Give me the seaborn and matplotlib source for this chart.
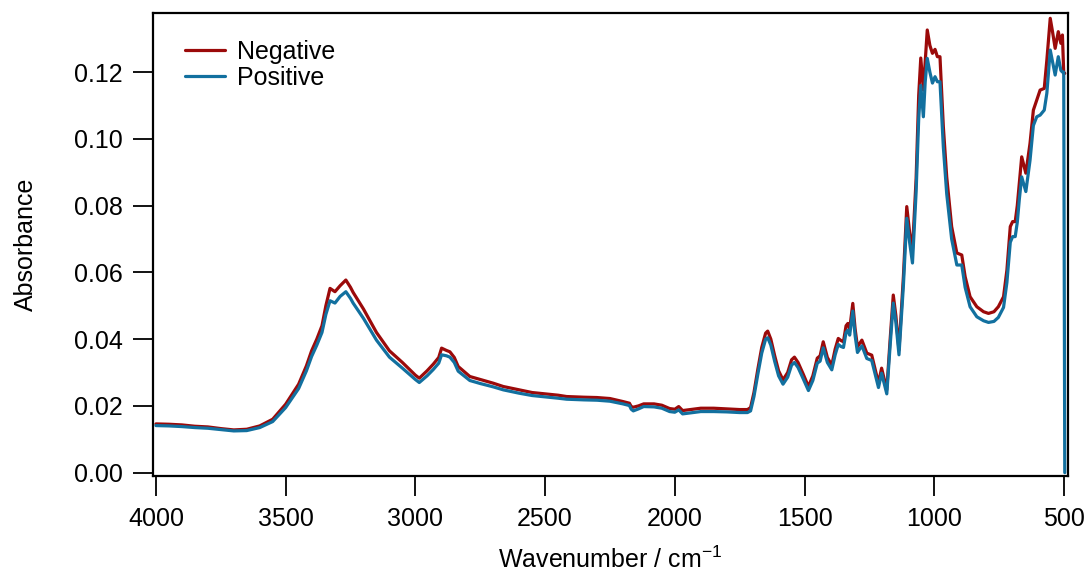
import pandas as pd
import matplotlib
matplotlib.use("Agg")
import matplotlib.pyplot as plt
import seaborn as sns

# === Spectrum values ===
wavenumber = [
    4000, 3950, 3900, 3850, 3800, 3750, 3700, 3650, 3600, 3550, 3500, 3450, 3420,
    3400, 3380, 3360, 3345, 3329, 3310, 3290, 3268, 3250, 3240, 3200, 3150, 3100,
    3050, 3000, 2985, 2955, 2931, 2910, 2899, 2880, 2867, 2850, 2835, 2790, 2750,
    2700, 2661, 2600, 2550, 2500, 2450, 2417, 2350, 2300, 2250, 2200, 2175, 2168,
    2160, 2140, 2120, 2080, 2050, 2020, 2000, 1985, 1970, 1950, 1900, 1850, 1800,
    1750, 1720, 1708, 1695, 1680, 1665, 1650, 1642, 1630, 1615, 1600, 1583, 1565,
    1550, 1539, 1525, 1505, 1485, 1468, 1451, 1440, 1428, 1412, 1395, 1382, 1370,
    1360, 1350, 1340, 1333, 1326, 1314, 1305, 1296, 1279, 1260, 1241, 1228, 1215,
    1203, 1183, 1170, 1158, 1148, 1136, 1119, 1106, 1095, 1084, 1070, 1060, 1052,
    1042, 1035, 1027, 1017, 1007, 997, 988, 978, 965, 952, 933, 913, 894, 881, 862,
    836, 810, 791, 770, 753, 733, 720, 707, 698, 688, 680, 672, 663, 647, 631, 618,
    605, 592, 576, 566, 553, 544, 534, 522, 512, 506, 501, 497,
]
negative = [
    0.0146, 0.0145, 0.0143, 0.0139, 0.0137, 0.0132, 0.0128, 0.0130, 0.0140, 0.0160,
    0.0205, 0.0265, 0.0320, 0.0365, 0.0400, 0.0440, 0.0500, 0.0552, 0.0542, 0.0560,
    0.0577, 0.0555, 0.0540, 0.0490, 0.0420, 0.0365, 0.0330, 0.0292, 0.0283, 0.0305,
    0.0325, 0.0345, 0.0373, 0.0366, 0.0362, 0.0345, 0.0318, 0.0288, 0.0279, 0.0268,
    0.0258, 0.0248, 0.0240, 0.0236, 0.0232, 0.0228, 0.0226, 0.0225, 0.0222, 0.0213,
    0.0208, 0.0198, 0.0196, 0.0200, 0.0206, 0.0206, 0.0202, 0.0192, 0.0190, 0.0198,
    0.0186, 0.0188, 0.0193, 0.0193, 0.0191, 0.0189, 0.0189, 0.0195, 0.0240, 0.0310,
    0.0375, 0.0418, 0.0424, 0.0400, 0.0350, 0.0305, 0.0278, 0.0300, 0.0338, 0.0346,
    0.0330, 0.0295, 0.0258, 0.0290, 0.0343, 0.0350, 0.0392, 0.0345, 0.0322, 0.0370,
    0.0402, 0.0396, 0.0392, 0.0440, 0.0447, 0.0430, 0.0507, 0.0430, 0.0377, 0.0397,
    0.0358, 0.0352, 0.0310, 0.0268, 0.0313, 0.0248, 0.0400, 0.0532, 0.0470, 0.0367,
    0.0587, 0.0797, 0.0720, 0.0667, 0.0880, 0.1130, 0.1242, 0.1146, 0.1230, 0.1326,
    0.1280, 0.1256, 0.1268, 0.1246, 0.1246, 0.1036, 0.0886, 0.0737, 0.0658, 0.0652,
    0.0587, 0.0527, 0.0497, 0.0482, 0.0477, 0.0482, 0.0497, 0.0527, 0.0607, 0.0737,
    0.0752, 0.0752, 0.0800, 0.0868, 0.0946, 0.0897, 0.0986, 0.1086, 0.1116, 0.1146,
    0.1151, 0.1236, 0.1361, 0.1320, 0.1271, 0.1321, 0.1286, 0.1311, 0.1196, 0.1196,
]
positive = [
    0.0141, 0.0140, 0.0138, 0.0135, 0.0133, 0.0129, 0.0125, 0.0126, 0.0135, 0.0153,
    0.0195, 0.0252, 0.0305, 0.0348, 0.0382, 0.0420, 0.0474, 0.0515, 0.0508, 0.0528,
    0.0542, 0.0522, 0.0508, 0.0462, 0.0397, 0.0346, 0.0313, 0.0279, 0.0270, 0.0290,
    0.0309, 0.0328, 0.0353, 0.0350, 0.0346, 0.0330, 0.0304, 0.0276, 0.0267, 0.0257,
    0.0248, 0.0238, 0.0231, 0.0227, 0.0223, 0.0220, 0.0218, 0.0217, 0.0214, 0.0206,
    0.0201, 0.0190, 0.0185, 0.0191, 0.0198, 0.0197, 0.0193, 0.0183, 0.0181, 0.0188,
    0.0176, 0.0178, 0.0183, 0.0183, 0.0182, 0.0180, 0.0180, 0.0185, 0.0228, 0.0295,
    0.0358, 0.0400, 0.0404, 0.0382, 0.0333, 0.0290, 0.0265, 0.0286, 0.0322, 0.0330,
    0.0315, 0.0281, 0.0246, 0.0276, 0.0328, 0.0334, 0.0374, 0.0330, 0.0308, 0.0353,
    0.0384, 0.0378, 0.0375, 0.0420, 0.0427, 0.0412, 0.0484, 0.0410, 0.0360, 0.0380,
    0.0342, 0.0336, 0.0296, 0.0255, 0.0298, 0.0236, 0.0382, 0.0508, 0.0450, 0.0353,
    0.0560, 0.0762, 0.0690, 0.0628, 0.0840, 0.1060, 0.1160, 0.1066, 0.1170, 0.1241,
    0.1200, 0.1167, 0.1186, 0.1171, 0.1171, 0.0975, 0.0835, 0.0700, 0.0622, 0.0622,
    0.0555, 0.0497, 0.0467, 0.0455, 0.0450, 0.0453, 0.0465, 0.0495, 0.0570, 0.0690,
    0.0707, 0.0707, 0.0750, 0.0820, 0.0886, 0.0842, 0.0935, 0.1040, 0.1066, 0.1071,
    0.1086, 0.1137, 0.1266, 0.1230, 0.1191, 0.1246, 0.1205, 0.1200, 0.1200, 0.0000,
]

series_names = ["Negative", "Positive"]
colors = {"Negative": "#9b0a0a", "Positive": "#12709f"}

# long-form table for seaborn
df = pd.concat([
    pd.DataFrame({"wn": wavenumber, "abs": negative, "sample": "Negative"}),
    pd.DataFrame({"wn": wavenumber, "abs": positive, "sample": "Positive"}),
], ignore_index=True)

sns.set_style("ticks")
plt.rcParams["font.family"] = ["Liberation Sans", "DejaVu Sans"]
plt.rcParams["mathtext.fontset"] = "custom"
plt.rcParams["mathtext.rm"] = "Liberation Sans"
plt.rcParams["text.color"] = "black"
plt.rcParams["axes.labelcolor"] = "black"

fig = plt.figure(figsize=(10.88, 5.73), dpi=100)
ax = fig.add_axes([0.1403, 0.1693, 0.8413, 0.8075])

sns.lineplot(data=df, x="wn", y="abs", hue="sample", hue_order=series_names,
             palette=colors, estimator=None, sort=False, linewidth=2.3, ax=ax)

ax.set_xlim(4012.7, 484.6)
ax.set_ylim(-0.001, 0.1376)
ax.set_xticks([4000, 3500, 3000, 2500, 2000, 1500, 1000, 500])
ax.set_yticks([0.00, 0.02, 0.04, 0.06, 0.08, 0.10, 0.12])
ax.set_yticklabels([f"{v:.2f}" for v in ax.get_yticks()])

for side in ["left", "right", "top", "bottom"]:
    ax.spines[side].set_visible(True)
    ax.spines[side].set_linewidth(1.6)
    ax.spines[side].set_color("black")

ax.tick_params(axis="both", direction="out", length=14.5, width=1.3, labelsize=18,
               colors="black")
ax.tick_params(axis="x", pad=8)
ax.tick_params(axis="y", pad=7)

ax.set_xlabel(r"Wavenumber / cm$^{\mathregular{-1}}$", fontsize=18, labelpad=11)
ax.set_ylabel("Absorbance", fontsize=18, labelpad=26)

handles, labels = ax.get_legend_handles_labels()
ax.legend(handles, labels, loc="upper left", bbox_to_anchor=(0.0353, 0.943),
          frameon=False, fontsize=18, handlelength=1.6, handletextpad=0.5,
          labelspacing=0.1, borderpad=0, borderaxespad=0)

fig.savefig("out.png", dpi=100)
